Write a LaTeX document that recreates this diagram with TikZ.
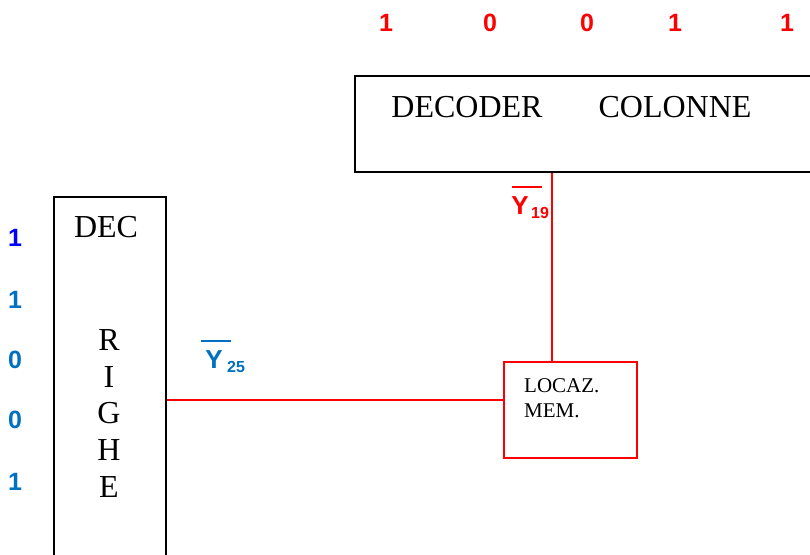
\documentclass[tikz,border=0pt]{standalone}
\usepackage{fontspec}
\setmainfont{Liberation Serif}
\newfontfamily\arialf{Liberation Sans}
\definecolor{bitred}{RGB}{255,0,0}
\definecolor{bitblue}{RGB}{0,0,255}
\definecolor{bitsteel}{RGB}{0,112,192}
\begin{document}
\begin{tikzpicture}[x=1pt,y=-1pt,
  blk/.style={draw=black,line width=2pt,inner sep=0pt},
  redbox/.style={draw=bitred,line width=2pt,inner sep=0pt},
  wire/.style={draw=bitred,line width=1.6pt},
  serifbig/.style={font=\fontsize{32}{38}\selectfont,inner sep=0pt,anchor=center},
  bit/.style={font=\arialf\bfseries\fontsize{25}{30}\selectfont,inner sep=0pt,anchor=center},
  memtxt/.style={font=\fontsize{21}{25}\selectfont,inner sep=0pt,anchor=west},
  ylabel/.style={font=\arialf\bfseries\fontsize{26}{31}\selectfont,inner sep=0pt,anchor=center},
  ysub/.style={font=\arialf\bfseries\fontsize{16}{19}\selectfont,inner sep=0pt,anchor=center}]
\useasboundingbox (0,0) rectangle (810,554);
\clip (0,0) rectangle (810,554);
\fill[white] (0,0) rectangle (810,554);
% boxes
\node[blk,minimum width=480pt,minimum height=96pt] (colbox) at (595,124) {};
\node[blk,minimum width=112pt,minimum height=380pt] (rowbox) at (110,387) {};
\node[redbox,minimum width=133pt,minimum height=96pt] (mem) at (570.5,409.5) {};
% texts in boxes
\node[serifbig] (tdec) at (467,107) {DECODER};
\node[serifbig] (tcol) at (675,107) {COLONNE};
\node[serifbig] (tdecr) at (106,227) {DEC};
\node[serifbig] (tr) at (109,340) {R};
\node[serifbig] (ti) at (109,377) {I};
\node[serifbig] (tg) at (109,413) {G};
\node[serifbig] (th) at (109,450) {H};
\node[serifbig] (te) at (109,487) {E};
\node[memtxt] (tloc) at (524,386) {LOCAZ.};
\node[memtxt] (tmem) at (524,411) {MEM.};
% column bits
\node[bit,text=bitred] (c1) at (386,23) {1};
\node[bit,text=bitred] (c2) at (490,23) {0};
\node[bit,text=bitred] (c3) at (587,23) {0};
\node[bit,text=bitred] (c4) at (675,23) {1};
\node[bit,text=bitred] (c5) at (787,23) {1};
% row bits
\node[bit,text=bitblue] (r1) at (15,238) {1};
\node[bit,text=bitsteel] (r2) at (15,300) {1};
\node[bit,text=bitsteel] (r3) at (15,360) {0};
\node[bit,text=bitsteel] (r4) at (15,420) {0};
\node[bit,text=bitsteel] (r5) at (15,482) {1};
% connectors
\coordinate (yrow) at (0,400);
\coordinate (xcol) at (552,0);
\draw[wire] (rowbox.east |- yrow) -- (mem.west |- yrow);
\draw[wire] (colbox.south -| xcol) -- (mem.north -| xcol);
% labels
\node[ylabel,text=bitsteel] (y25) at (214,360) {Y};
\node[ysub,text=bitsteel] (y25s) at (236,367) {25};
\draw[bitsteel,line width=1.3pt] (201,341) -- (231,341);
\node[ylabel,text=bitred] (y19) at (520,206) {Y};
\node[ysub,text=bitred] (y19s) at (540,213) {19};
\draw[bitred,line width=1.3pt] (512,187) -- (542,187);
\end{tikzpicture}
\end{document}
